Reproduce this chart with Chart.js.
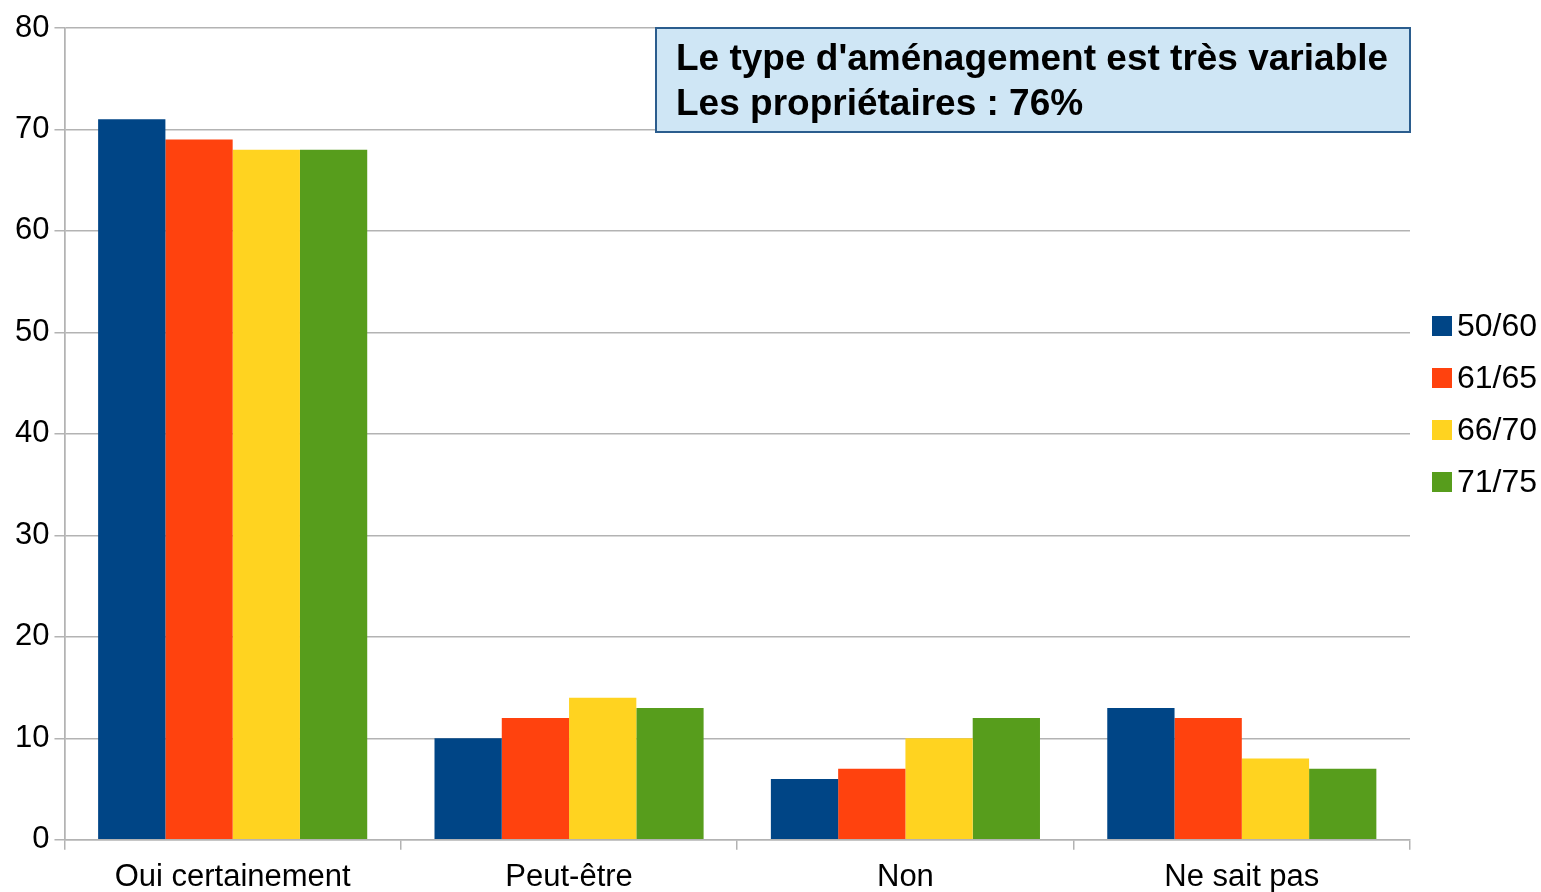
<!DOCTYPE html>
<html>
<head>
<meta charset="utf-8">
<script src="https://cdn.jsdelivr.net/npm/chart.js@4"></script>
<style>
  html, body { margin: 0; padding: 0; background: #fff; overflow: hidden; }
  #wrap { width: 1541px; height: 905px; }
</style>
</head>
<body>
<div id="wrap"><canvas id="chart" width="1541" height="905"></canvas></div>
<script>
// ── Données ──
const categories = ['Oui certainement', 'Peut-être', 'Non', 'Ne sait pas'];
const seriesLabels = ['50/60', '61/65', '66/70', '71/75'];
const serie5060 = [71, 10, 6, 13];
const serie6165 = [69, 12, 7, 12];
const serie6670 = [68, 14, 10, 8];
const serie7175 = [68, 13, 12, 7];
const yMin = 0, yMax = 80, yStep = 10;
const noteLines = ["Le type d'aménagement est très variable", 'Les propriétaires : 76%'];

const colors = ['#004586', '#ff420e', '#ffd320', '#579d1c'];
const gridGray = '#b3b3b3';
const font = '"Liberation Sans", Arial, sans-serif';

// encadré de texte en haut à droite
const noteBox = {
  id: 'noteBox',
  afterDraw(chart) {
    const { ctx, chartArea: a } = chart;
    const w = 754, h = 104;
    const x = a.right - w, y = a.top;
    ctx.save();
    ctx.fillStyle = '#cfe6f5';
    ctx.fillRect(x, y, w, h);
    ctx.strokeStyle = '#2b5d8e';
    ctx.lineWidth = 2;
    ctx.strokeRect(x, y, w, h);
    ctx.fillStyle = '#000';
    ctx.font = 'bold 37px ' + font;
    ctx.textBaseline = 'middle';
    noteLines.forEach((t, i) => ctx.fillText(t, x + 20, y + 32 + i * 45));
    ctx.restore();
  }
};

// légende à droite
const sideLegend = {
  id: 'sideLegend',
  afterDraw(chart) {
    const { ctx, chartArea: a } = chart;
    ctx.save();
    chart.data.datasets.forEach((ds, i) => {
      const cy = a.top + 298 + i * 52;
      ctx.fillStyle = ds.backgroundColor;
      ctx.fillRect(a.right + 22, cy - 10, 20, 20);
      ctx.fillStyle = '#000';
      ctx.font = '32px ' + font;
      ctx.textBaseline = 'middle';
      ctx.fillText(ds.label, a.right + 47, cy + 1);
    });
    ctx.restore();
  }
};

const series = [serie5060, serie6165, serie6670, serie7175];

new Chart(document.getElementById('chart'), {
  type: 'bar',
  data: {
    labels: categories,
    datasets: series.map((d, i) => ({
      label: seriesLabels[i],
      data: d,
      backgroundColor: colors[i],
      borderWidth: 0,
      categoryPercentage: 0.8,
      barPercentage: 1.0
    }))
  },
  options: {
    responsive: false,
    animation: false,
    layout: { padding: { top: 28, right: 131, left: 10, bottom: 0 } },
    plugins: {
      legend: { display: false },
      tooltip: { enabled: false }
    },
    scales: {
      x: {
        grid: {
          offset: true,
          drawOnChartArea: true,
          color: c => (c.index === 0 || c.index === categories.length) ? gridGray : 'rgba(0,0,0,0)',
          tickColor: gridGray,
          tickLength: 10,
          lineWidth: 1.5
        },
        border: { color: gridGray, width: 1.5 },
        ticks: { color: '#000', font: { family: font, size: 31 }, padding: 9 }
      },
      y: {
        min: yMin,
        max: yMax,
        ticks: { stepSize: yStep, color: '#000', font: { family: font, size: 31 }, padding: 5 },
        grid: { color: gridGray, tickColor: gridGray, tickLength: 10, lineWidth: 1.5 },
        border: { color: gridGray, width: 1.5 }
      }
    }
  },
  plugins: [noteBox, sideLegend]
});
</script>
</body>
</html>
